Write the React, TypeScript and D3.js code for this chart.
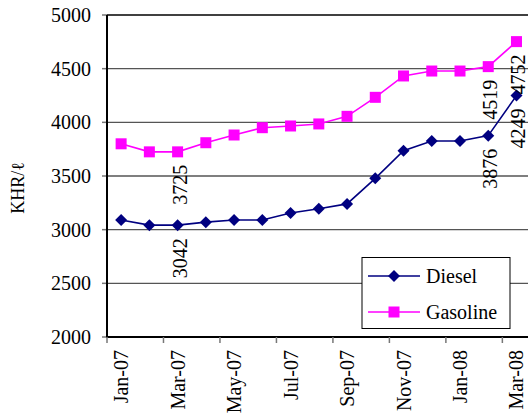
import React from 'react';
import * as d3 from 'd3';

// 월별 카테고리
const months = [
  'Jan-07', 'Feb-07', 'Mar-07', 'Apr-07', 'May-07', 'Jun-07', 'Jul-07', 'Aug-07',
  'Sep-07', 'Oct-07', 'Nov-07', 'Dec-07', 'Jan-08', 'Feb-08', 'Mar-08',
];

// 연료 가격 (KHR/ℓ)
const diesel = [3090, 3042, 3042, 3070, 3090, 3090, 3155, 3195, 3240, 3478, 3736, 3826, 3826, 3876, 4249];
const gasoline = [3800, 3725, 3725, 3810, 3882, 3950, 3966, 3985, 4056, 4233, 4432, 4478, 4478, 4519, 4752];

// 값 레이블을 표시할 월
const labeledMonths = ['Mar-07', 'Feb-08', 'Mar-08'];

const yTicks = [2000, 2500, 3000, 3500, 4000, 4500, 5000];

const FONT = "'Liberation Serif', 'Times New Roman', serif";
const textStyle = { fontFamily: FONT };

export default function App() {
  const width = 528;
  const height = 418;
  const left = 107;
  const top = 15;
  const bottom = 337;
  const step = 28.24;

  const x = d3.scaleBand<string>().domain(months).range([left, left + months.length * step]).padding(0);
  const y = d3.scaleLinear().domain([2000, 5000]).range([bottom, top]);
  const cx = (m: string) => (x(m) as number) + x.bandwidth() / 2;

  const line = d3
    .line<number>()
    .x((_, i) => cx(months[i]))
    .y((d) => y(d));

  const series = [
    { name: 'Diesel', values: diesel, color: '#000080', marker: 'diamond' },
    { name: 'Gasoline', values: gasoline, color: '#ff00ff', marker: 'square' },
  ];

  const drawMarker = (kind: string, px: number, py: number, color: string, key: string) =>
    kind === 'diamond' ? (
      <path key={key} d={`M${px},${py - 6}L${px + 6},${py}L${px},${py + 6}L${px - 6},${py}Z`} fill={color} />
    ) : (
      <rect key={key} x={px - 5.5} y={py - 5.5} width={11} height={11} fill={color} />
    );

  // x축 눈금: 두 달 간격
  const tickPositions = d3.range(0, months.length + 1, 2).map((i) => left + i * step);

  return (
    <svg
      width={width}
      height={height}
      style={{ position: 'absolute', left: 0, top: 0, background: '#fff' }}
    >
      {/* 격자선 */}
      {yTicks.map((t) => (
        <g key={t}>
          {t > 2000 && <line x1={left} x2={width} y1={y(t)} y2={y(t)} stroke={t === 5000 ? '#000' : '#555'} strokeWidth={1.3} />}
          <line x1={left - 5} x2={left} y1={y(t)} y2={y(t)} stroke="#777" strokeWidth={1.5} />
          <text x={91} y={y(t)} textAnchor="end" dominantBaseline="central" fontSize={20} fill="#000" style={textStyle}>
            {t}
          </text>
        </g>
      ))}

      {/* 축 */}
      <line x1={left} x2={left} y1={top} y2={bottom + 1} stroke="#000" strokeWidth={2} />
      <line x1={left} x2={width} y1={bottom} y2={bottom} stroke="#000" strokeWidth={2} />
      {tickPositions.map((p) => (
        <line key={p} x1={p} x2={p} y1={bottom} y2={bottom + 6} stroke="#777" strokeWidth={1.5} />
      ))}

      {/* x축 레이블 */}
      {months.map((m, i) =>
        i % 2 === 0 ? (
          <text
            key={m}
            transform={`translate(${cx(m)}, 350) rotate(-90)`}
            textAnchor="end"
            dominantBaseline="central"
            fontSize={20}
            fill="#000"
            style={textStyle}
          >
            {m}
          </text>
        ) : null,
      )}

      {/* y축 제목 */}
      <text
        transform="translate(18, 188) rotate(-90)"
        textAnchor="middle"
        dominantBaseline="central"
        fontSize={18}
        style={textStyle}
      >
        KHR/ℓ
      </text>

      {/* 시리즈 */}
      {series.map((s) => (
        <g key={s.name}>
          <path d={line(s.values) as string} fill="none" stroke={s.color} strokeWidth={1.6} />
          {s.values.map((v, i) => drawMarker(s.marker, cx(months[i]), y(v), s.color, `${s.name}-${i}`))}
          {s.values.map((v, i) =>
            labeledMonths.includes(months[i]) ? (
              <text
                key={`l-${i}`}
                transform={`translate(${cx(months[i]) + 2}, ${y(v) + 13}) rotate(-90)`}
                textAnchor="end"
                dominantBaseline="central"
                fontSize={20}
                fill="#000"
                style={textStyle}
              >
                {v}
              </text>
            ) : null,
          )}
        </g>
      ))}

      {/* 범례 */}
      <g>
        <rect x={362} y={257.5} width={148} height={71} fill="#fff" stroke="#000" strokeWidth={1} />
        {series.map((s, i) => {
          const ly = 276 + i * 36;
          return (
            <g key={s.name}>
              <line x1={368} x2={420} y1={ly} y2={ly} stroke={s.color} strokeWidth={1.6} />
              {drawMarker(s.marker, 394, ly, s.color, `lg-${s.name}`)}
              <text x={426} y={ly} dominantBaseline="central" fontSize={20} fill="#000" style={textStyle}>
                {s.name}
              </text>
            </g>
          );
        })}
      </g>
    </svg>
  );
}
